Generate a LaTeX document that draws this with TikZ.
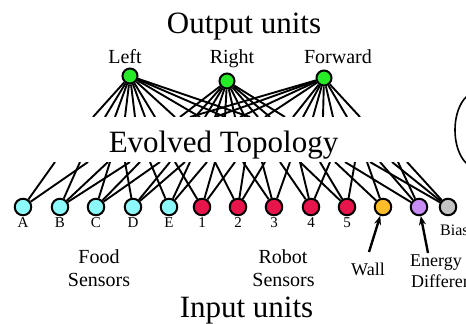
\documentclass[tikz,border=0pt]{standalone}
\usepackage{fontspec}
\setmainfont{Liberation Serif}
\usetikzlibrary{arrows.meta}
\definecolor{cyanN}{RGB}{140,250,250}
\definecolor{redN}{RGB}{232,20,76}
\definecolor{wallN}{RGB}{255,190,40}
\definecolor{energyN}{RGB}{200,140,245}
\definecolor{biasN}{RGB}{195,195,195}
\definecolor{outN}{RGB}{40,235,40}
\begin{document}
\begin{tikzpicture}[x=1pt,y=-1pt,
  unit/.style={circle,draw=black,line width=2pt,minimum size=16.5pt,inner sep=0pt},
  outunit/.style={unit,fill=outN,minimum size=15pt},
  edge/.style={line width=1.9pt},
  title/.style={font=\fontsize{31}{31}\selectfont,inner sep=0pt,anchor=base},
  olbl/.style={font=\fontsize{20}{20}\selectfont,inner sep=0pt,anchor=base},
  ilbl/.style={font=\fontsize{15}{15}\selectfont,inner sep=0pt,anchor=base},
  glbl/.style={font=\fontsize{20}{20}\selectfont,inner sep=0pt,anchor=base},
  slbl/.style={font=\fontsize{18}{18}\selectfont,inner sep=0pt,anchor=base},
  pointer/.style={line width=2.4pt,-{Stealth[length=9pt,width=7pt]}}]
\useasboundingbox (0,0) rectangle (466,324);
% output units
\node[outunit] (oL) at (130,76) {};
\node[outunit] (oR) at (227,81) {};
\node[outunit] (oF) at (324,78) {};
% input units
\foreach \n/\x/\c in {A/23/cyanN, B/60/cyanN, C/96/cyanN, D/133/cyanN, E/169/cyanN,
  1/202/redN, 2/238/redN, 3/274/redN, 4/311/redN, 5/347/redN,
  W/383/wallN, G/419/energyN, Z/448/biasN}
  \node[unit,fill=\c] (i\n) at (\x,207) {};
% edges from outputs into the hidden topology
\foreach \n/\xs in {L/{93,105,115,125,135,145,155,175,200,225,250},
  R/{180,195,205,215,225,235,245,258,270,285},
  F/{190,215,240,265,293,303,313,323,333,347,360}}{
  \foreach \t in \xs {
    \coordinate (t\n\t) at (\t,117);
    \draw[edge] (o\n) -- (t\n\t);
  }
}
% edges from inputs into the hidden topology
\foreach \n/\xs in {A/{55,88}, B/{80,108,130}, C/{110,140,160}, D/{125,170,185},
  E/{150,190,207}, 1/{175,215,235}, 2/{215,245,265}, 3/{243,262,290},
  4/{280,300,330}, 5/{300,320,355}, W/{335,367}, G/{345,380,398},
  Z/{370,392,407}}{
  \foreach \t in \xs {
    \coordinate (b\n\t) at (\t,162);
    \draw[edge] (i\n) -- (b\n\t);
  }
}
% band hiding the evolved part
\fill[white] (0,117) rectangle (466,162);
\node[title] (evo) at (223.5,152.7) {Evolved Topology};
\draw[line width=1.6pt] (477,130) ellipse [x radius=22pt, y radius=38pt];
% titles
\node[title] (outT) at (244,33) {Output units};
\node[title] (inT) at (246.5,317) {Input units};
% output labels
\node[olbl] (lL) at (125,63) {Left};
\node[olbl] (lR) at (232,63) {Right};
\node[olbl] (lF) at (338,63) {Forward};
% input labels
\foreach \n/\x in {A/23, B/60, C/96, D/133, E/169, 1/202, 2/238, 3/274, 4/311, 5/347}
  \node[ilbl] (l\n) at (\x,227) {\n};
\node[ilbl,font=\fontsize{16}{16}\selectfont,anchor=base west] (lZ) at (440,235) {Bias};
% group labels
\node[glbl] (food1) at (99,263) {Food};
\node[glbl] (food2) at (99,286.5) {Sensors};
\node[glbl] (rob1) at (283,263) {Robot};
\node[glbl] (rob2) at (283.5,286.5) {Sensors};
\node[slbl] (wallL) at (368,275) {Wall};
\node[slbl,anchor=base west] (enL1) at (410,266) {Energy};
\node[slbl,anchor=base west] (enL2) at (411,287) {Difference};
% pointers
\coordinate (wTail) at (369,252);
\coordinate (gTail) at (428,253);
\draw[pointer] (wTail) -- (iW);
\draw[pointer] (gTail) -- (iG);
\end{tikzpicture}
\end{document}
